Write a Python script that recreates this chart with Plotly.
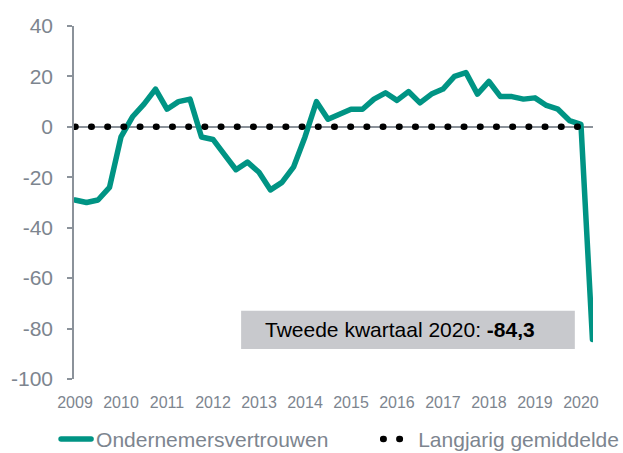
"""
Ondernemersvertrouwen per kwartaal, 2009-2020
"""

import plotly.graph_objects as go

# Kwartalen 2009K1 t/m 2020K2
years = list(range(2009, 2021))
quarters = [(y, q) for y in years for q in range(1, 5)][:46]

# Ondernemersvertrouwen (saldo) per kwartaal
confidence = [
    -29, -30, -29, -24,        # 2009
    -4, 4, 9, 15,              # 2010
    7, 10, 11, -4,             # 2011
    -5, -11, -17, -14,         # 2012
    -18, -25, -22, -16,        # 2013
    -4, 10, 3, 5,              # 2014
    7, 7, 11, 13.5,            # 2015
    10.5, 14, 9.5, 13,         # 2016
    15, 20, 21.5, 13,          # 2017
    18, 12, 12, 11,            # 2018
    11.5, 8.5, 7, 2.5,         # 2019
    1, -84.3,                  # 2020
]

# Langjarig gemiddelde
long_term_avg = [0] * len(confidence)

y_ticks = [40, 20, 0, -20, -40, -60, -80, -100]
y_ticktext = ['40', '20', '0', '-20', '-40', '-60', '-80', '-100']
annotation_text = 'Tweede kwartaal 2020: <b>-84,3</b>'

# x as decimal year, so the year labels sit on the first quarter
x_vals = [y + (q - 1) / 4 for y, q in quarters]

GREEN = '#009484'
GREY_TEXT = '#7d858f'
GREY_AXIS = '#8b929a'
FONT = 'Liberation Sans, Arial, sans-serif'

X_RANGE = [2008.978, 2020.262]
Y_RANGE = [-100, 40]

fig = go.Figure()

fig.add_trace(go.Scatter(
    x=x_vals,
    y=confidence,
    mode='lines',
    name='Ondernemersvertrouwen',
    line=dict(color=GREEN, width=5.5, simplify=False),
    legend='legend',
    hoverinfo='skip'
))

fig.add_trace(go.Scatter(
    x=x_vals,
    y=long_term_avg,
    mode='lines',
    name='Langjarig gemiddelde',
    line=dict(color='black', width=6.5, dash='0.5px,15.7px'),
    legend='legend2',
    hoverinfo='skip'
))

# grey label box (left-aligned text, so box drawn as a shape)
fig.add_shape(
    type='rect', xref='paper', yref='paper',
    x0=0.322, x1=0.965, y0=0.085, y1=0.193,
    fillcolor='#c8c9cd', line_width=0, layer='below'
)
fig.add_annotation(
    xref='paper', yref='paper',
    x=0.364, y=0.139, xanchor='left', yanchor='middle',
    text=annotation_text,
    showarrow=False,
    font=dict(family=FONT, size=21, color='black')
)

legend_style = dict(
    orientation='h',
    xref='container', yref='container',
    xanchor='left', y=0.03, yanchor='middle',
    font=dict(size=21, color=GREY_TEXT),
    bgcolor='rgba(0,0,0,0)',
)

fig.update_layout(
    width=623,
    height=453,
    margin=dict(l=74, r=30, t=26, b=74),
    paper_bgcolor='white',
    plot_bgcolor='white',
    font=dict(family=FONT, color=GREY_TEXT),
    xaxis=dict(
        range=X_RANGE,
        tickvals=years,
        ticktext=[str(y) for y in years],
        tickfont=dict(size=16, color=GREY_TEXT),
        showgrid=False,
        showline=False,
        zeroline=False,
        ticks='',
        ticklabelstandoff=12,
        automargin=False
    ),
    # small year ticks sitting on the zero line (Excel category axis crossing at 0)
    xaxis2=dict(
        overlaying='x',
        range=X_RANGE,
        anchor='free',
        position=(0 - Y_RANGE[0]) / (Y_RANGE[1] - Y_RANGE[0]),
        tickvals=years,
        showticklabels=False,
        ticks='outside',
        ticklen=4,
        tickwidth=1.5,
        tickcolor=GREY_AXIS,
        showgrid=False,
        showline=False,
        zeroline=False,
        automargin=False
    ),
    yaxis=dict(
        range=Y_RANGE,
        tickvals=y_ticks,
        ticktext=y_ticktext,
        tickfont=dict(size=21, color=GREY_TEXT),
        showgrid=False,
        showline=True,
        linecolor=GREY_AXIS,
        linewidth=1.5,
        ticks='outside',
        ticklen=5,
        tickwidth=1.5,
        tickcolor=GREY_AXIS,
        ticklabelstandoff=10,
        zeroline=True,
        zerolinecolor=GREY_AXIS,
        zerolinewidth=2,
        automargin=False
    ),
    showlegend=True,
    legend=dict(x=0.09, **legend_style),
    legend2=dict(x=0.607, **legend_style),
)

# no page margin, Excel-style round dots / line joins
post = """
document.body.style.margin = '0';
var gd = document.getElementById('{plot_id}');
gd.querySelectorAll('path.js-line, .legendlines path').forEach(function(p) {
    p.style.strokeLinecap = 'round';
    p.style.strokeLinejoin = 'round';
});
"""

fig.write_html("out.html", post_script=post, config={'displayModeBar': False})
